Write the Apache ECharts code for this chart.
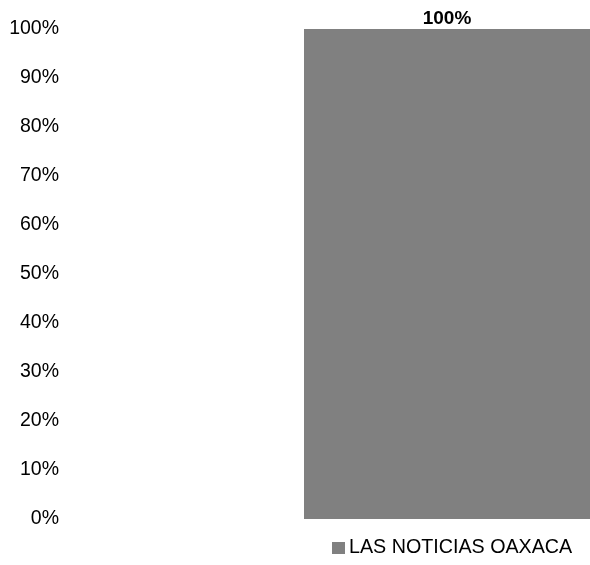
<!DOCTYPE html>
<html>
<head>
<meta charset="utf-8">
<script src="https://cdn.jsdelivr.net/npm/echarts@6/dist/echarts.min.js"></script>
<style>html,body{margin:0;padding:0;background:#fff}#c{width:590px;height:565px}</style>
</head>
<body>
<div id="c"></div>
<script>
var categories = [''];
var seriesName = 'LAS NOTICIAS OAXACA';
var values = [100];

var chart = echarts.init(document.getElementById('c'), null, {renderer: 'canvas'});
var font = '"Liberation Sans", Arial, sans-serif';
chart.setOption({
  animation: false,
  backgroundColor: '#fff',
  grid: {left: 304, top: 29, bottom: 46, width: 294, containLabel: false},
  xAxis: {
    type: 'category', data: categories,
    axisLine: {show: false}, axisTick: {show: false}, axisLabel: {show: false}
  },
  yAxis: {
    type: 'value', min: 0, max: 100, interval: 10,
    axisLine: {show: false}, axisTick: {show: false}, splitLine: {show: false},
    axisLabel: {formatter: '{value}%', margin: 245, color: '#000', fontFamily: font, fontSize: 19.5,
      padding: [3, 0, 0, 0]}
  },
  legend: {
    left: 332, top: 538, padding: 0, itemWidth: 13, itemHeight: 12, itemGap: 4,
    icon: 'rect',
    textStyle: {color: '#000', fontFamily: font, fontSize: 19.7, padding: [0,0,0,-1]},
    data: [seriesName]
  },
  series: [{
    name: seriesName, type: 'bar', data: values, barWidth: '100%',
    itemStyle: {color: '#808080'},
    label: {show: true, position: 'top', distance: 1, formatter: '{c}%', color: '#000',
      fontFamily: font, fontWeight: 'bold', fontSize: 19}
  }]
});
</script>
</body>
</html>
